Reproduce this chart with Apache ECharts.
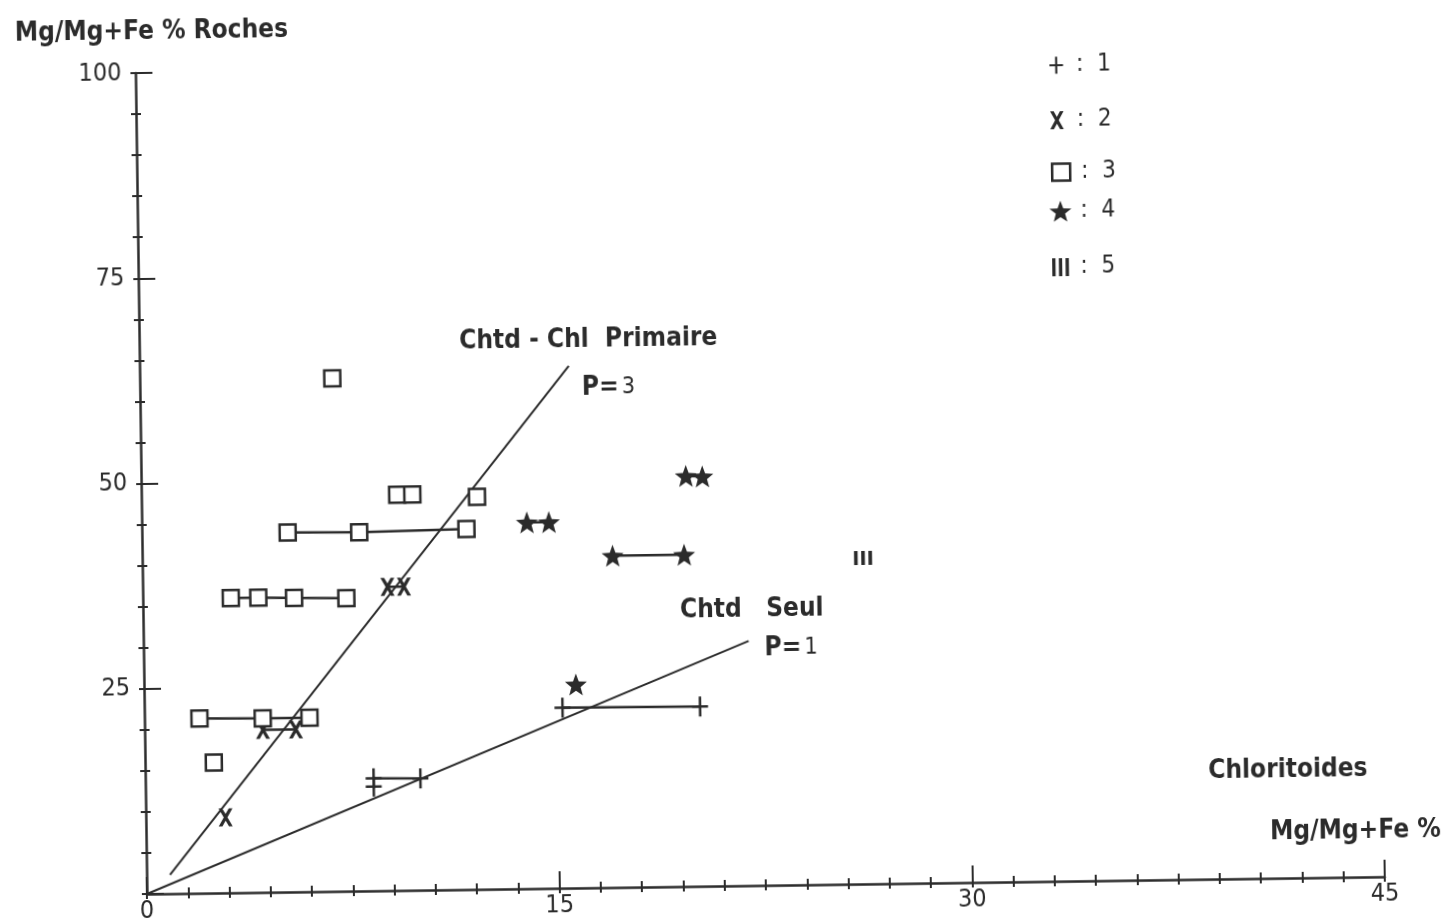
<!DOCTYPE html>
<html><head><meta charset="utf-8">
<script src="https://cdn.jsdelivr.net/npm/echarts@6/dist/echarts.min.js"></script>
<style>
html,body{margin:0;padding:0;background:#fff;overflow:hidden;width:1446px;height:924px}
#wrap{position:absolute;left:0;top:0;width:1446px;height:924px;overflow:hidden;background:#fff}
#c{position:absolute;left:0;top:0;width:1446px;height:924px;transform:rotate(-0.8deg);transform-origin:147px 902px}
</style>
</head><body><div id="wrap"><div id="c"></div></div>
<script>
// ---- tick labels ----
const xTickLabels = [0, 15, 30, 45];
const yTickLabels = [25, 50, 75, 100];

// ---- series 1 (+) ----
const s1_a = [[15.2, 22.0], [20.2, 21.9]];
const s1_b = [[8.3, 13.7], [10.0, 13.6]];
const s1_c = [[8.3, 12.7]];
// ---- series 2 (x) ----
const s2_a = [[8.9, 37.0], [9.5, 37.0]];
const s2_b = [[4.3, 19.8], [5.5, 19.8]];
const s2_c = [[2.9, 9.2]];
// ---- series 3 (square) ----
const s3_a = [[7.0, 62.5]];
const s3_b = [[9.3, 48.2], [9.85, 48.2]];
const s3_c = [[12.2, 47.8]];
const s3_d = [[5.3, 43.8], [7.9, 43.7], [11.8, 43.9]];
const s3_e = [[3.2, 35.9], [4.2, 35.9], [5.5, 35.8], [7.4, 35.7]];
const s3_f = [[2.0, 21.3], [4.3, 21.2], [6.0, 21.2]];
const s3_g = [[2.5, 15.9]];
// ---- series 4 (star) ----
const s4_a = [[14.0, 44.6], [14.8, 44.6]];
const s4_b = [[19.8, 50.0], [20.4, 49.9]];
const s4_c = [[17.1, 40.4], [19.7, 40.4]];
const s4_d = [[15.7, 24.8]];
// ---- series 5 (III) ----
const s5_a = [[26.2, 39.7]];
// ---- trend lines ----
const linePrimaire = [[0.85, 2.3], [15.6, 63.6]];
const lineSeul = [[0, 0], [22.0, 29.8]];

const INK = '#2b2b2b';
const FONT = '"Liberation Sans Narrow","DejaVu Sans Condensed",sans-serif';

const PLUS = 'path://M6.75,0H9.25V8.75H16V11.25H9.25V20H6.75V11.25H0V8.75H6.75Z';
const CROSS = 'path://M0,0H3.2L6,5L8.8,0H12L7.6,8L12,16H8.8L6,11L3.2,16H0L4.4,8Z';
const STAR = 'path://M10,0L12.47,6.6L19.51,6.91L13.99,11.3L15.88,18.09L10,14.2L4.12,18.09L6.01,11.3L0.49,6.91L7.53,6.6Z';
const BARS = 'path://M0,0H2.6V14H0Z M5.2,0H7.8V14H5.2Z M10.4,0H13V14H10.4Z';

function grp(name, data, symbol, size, fill) {
  return {
    type: 'line', name: name, data: data, symbol: symbol, symbolSize: size,
    showSymbol: true, silent: true, animation: false, z: 3,
    lineStyle: { color: INK, width: 2.5 },
    itemStyle: fill === 'hollow'
      ? { color: '#fff', borderColor: INK, borderWidth: 2.5 }
      : { color: INK, borderWidth: 0 }
  };
}

const series = [
  { type: 'line', name: 'Chtd-Chl Primaire', data: linePrimaire, symbol: 'none', silent: true, animation: false,
    lineStyle: { color: INK, width: 2 }, z: 2 },
  { type: 'line', name: 'Chtd Seul', data: lineSeul, symbol: 'none', silent: true, animation: false,
    lineStyle: { color: INK, width: 2 }, z: 2 }
];
[s1_a, s1_b, s1_c].forEach(d => series.push(grp('1', d, PLUS, [16, 20])));
[s2_a, s2_b, s2_c].forEach(d => series.push(grp('2', d, CROSS, [14, 18])));
[s3_a, s3_b, s3_c, s3_d, s3_e, s3_f, s3_g].forEach(d => series.push(grp('3', d, 'rect', 16, 'hollow')));
[s4_a, s4_b, s4_c, s4_d].forEach(d => series.push(grp('4', d, STAR, 22)));
[s5_a].forEach(d => series.push(grp('5', d, BARS, [18, 14])));

const legendDefs = [
  { name: '1', icon: PLUS, cy: 77, w: 18, h: 17 },
  { name: '2', icon: CROSS, cy: 132, w: 18, h: 18 },
  { name: '3', icon: 'rect', cy: 184, w: 18, h: 17, hollow: true },
  { name: '4', icon: STAR, cy: 225, w: 22, h: 22 },
  { name: '5', icon: BARS, cy: 279, w: 18, h: 18 }
];
const legends = legendDefs.map(l => ({
  left: 1056 - (l.w - 18) / 2, top: l.cy - 16 - (l.h > 20 ? 2 : 0), itemWidth: l.w, itemHeight: l.h, itemGap: 0,
  selectedMode: false,
  data: [{ name: l.name, icon: l.icon,
    itemStyle: l.hollow ? { color: '#fff', borderColor: INK, borderWidth: 2.5 } : { color: INK, borderWidth: 0 } }],
  formatter: n => ':  ' + n,
  textStyle: { fontFamily: FONT, fontSize: 24, color: INK, padding: [0, 0, 0, 6 - (l.w - 18) / 2] }
}));

function txt(x, y, text, size, weight) {
  return { type: 'text', x: x, y: y, silent: true,
    style: { text: text, fill: INK, font: (weight || 'bold') + ' ' + size + 'px ' + FONT, verticalAlign: 'middle' } };
}

const option = {
  backgroundColor: '#fff',
  animation: false,
  grid: { left: 147, top: 73, width: 1238, height: 829 },
  xAxis: [
    { type: 'value', min: 0, max: 45, interval: 15, position: 'bottom',
      axisLine: { lineStyle: { color: INK, width: 2.5 } },
      axisTick: { inside: true, length: 17, lineStyle: { color: INK, width: 2 } },
      minorTick: { show: true, splitNumber: 10, length: 6, lineStyle: { color: INK, width: 2 } },
      splitLine: { show: false },
      axisLabel: { margin: 5, fontFamily: FONT, fontSize: 25, color: INK,
        formatter: v => xTickLabels.indexOf(v) >= 0 ? String(v) : '' } },
    { type: 'value', min: 0, max: 45, interval: 1.5, position: 'bottom',
      axisLine: { show: false },
      axisTick: { inside: false, length: 5, lineStyle: { color: INK, width: 2 } },
      splitLine: { show: false }, axisLabel: { show: false } }
  ],
  yAxis: [
    { type: 'value', min: 0, max: 100, interval: 25, position: 'left',
      axisLine: { show: true, lineStyle: { color: INK, width: 2.5 } },
      axisTick: { show: true, inside: true, length: 17, lineStyle: { color: INK, width: 2 } },
      minorTick: { show: true, splitNumber: 5, length: 5, lineStyle: { color: INK, width: 2 } },
      splitLine: { show: false },
      axisLabel: { margin: 14, fontFamily: FONT, fontSize: 25, color: INK,
        formatter: v => yTickLabels.indexOf(v) >= 0 ? String(v) : '' } },
    { type: 'value', min: 0, max: 100, interval: 5, position: 'left',
      axisLine: { show: false },
      axisTick: { show: true, inside: false, length: 5, lineStyle: { color: INK, width: 2 } },
      splitLine: { show: false }, axisLabel: { show: false } }
  ],
  legend: legends,
  series: series,
  graphic: [
    txt(27, 32, 'Mg/Mg+Fe % Roches', 26),
    txt(467, 346, 'Chtd - Chl  Primaire', 26),
    { type: 'text', x: 589, y: 394, silent: true,
      style: { text: '{a|P=} {b|3}', verticalAlign: 'middle',
        rich: { a: { fill: INK, font: 'bold 26px ' + FONT }, b: { fill: INK, font: '23px ' + FONT } } } },
    txt(684, 618, 'Chtd   Seul', 26),
    { type: 'text', x: 768, y: 657, silent: true,
      style: { text: '{a|P=} {b|1}', verticalAlign: 'middle',
        rich: { a: { fill: INK, font: 'bold 26px ' + FONT }, b: { fill: INK, font: '23px ' + FONT } } } },
    txt(1210, 786, 'Chloritoides', 26),
    txt(1271, 848, 'Mg/Mg+Fe %', 26)
  ]
};
const chart = echarts.init(document.getElementById('c'), null, { renderer: 'canvas' });
chart.setOption(option);
</script>
</body></html>
